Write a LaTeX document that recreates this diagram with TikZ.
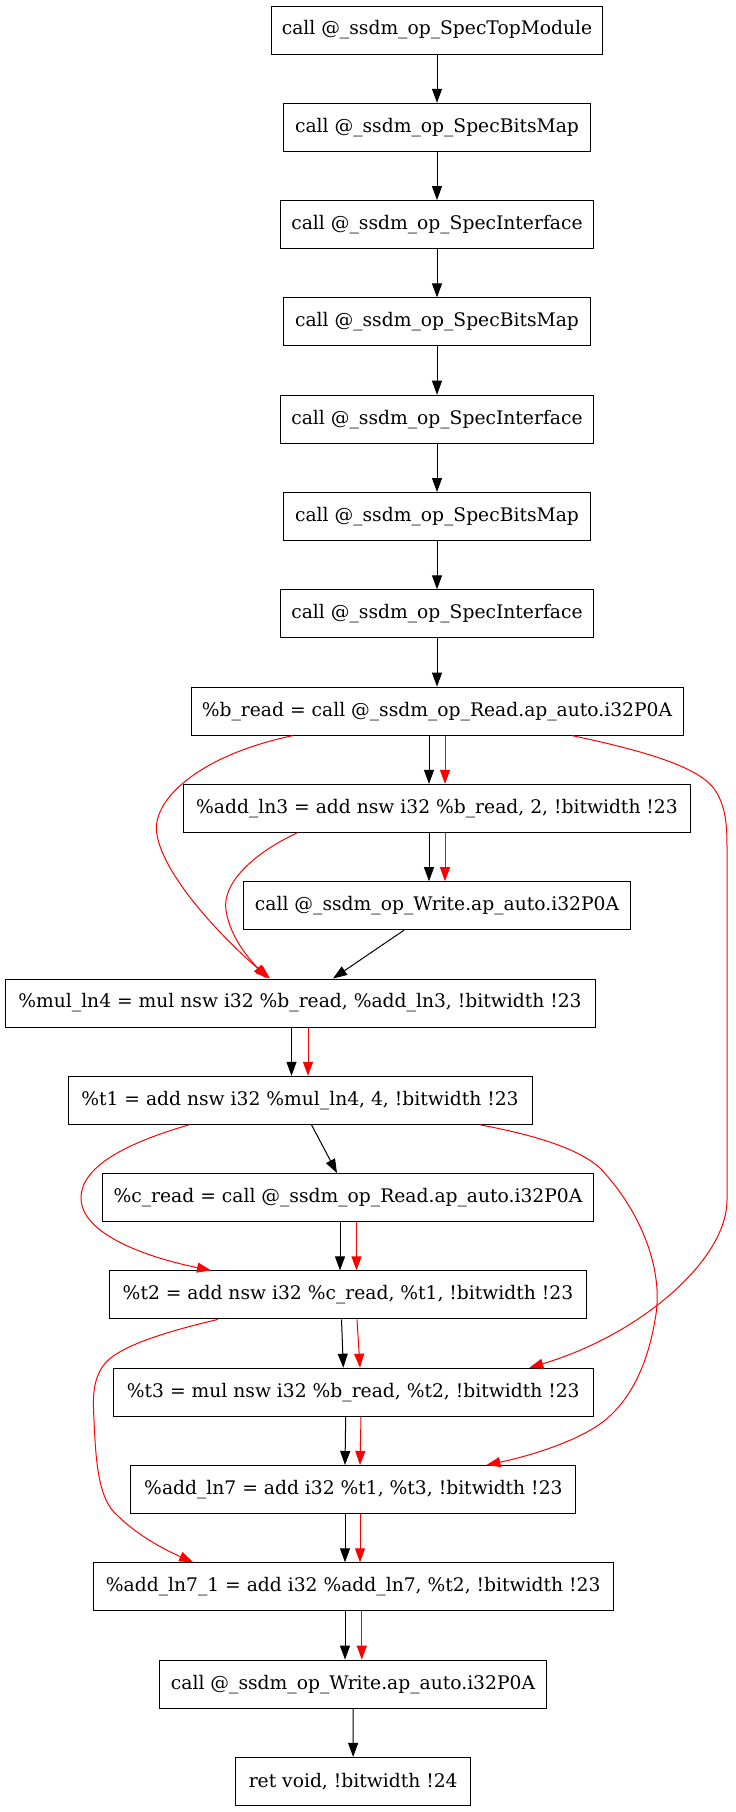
\documentclass[tikz,border=0pt]{standalone}
\usepackage{fontspec}
\setmainfont{DejaVu Serif}
\usetikzlibrary{arrows.meta}
\begin{document}
\begin{tikzpicture}[x=1pt,y=-1pt,
  op/.style={draw, line width=1pt, minimum height=48pt, inner xsep=6pt, inner ysep=0pt,
    font=\fontsize{18.7}{20}\selectfont},
  arr/.style={-{Triangle[length=14pt,width=10pt]}, line width=1pt},
  redarr/.style={arr, draw=red}]
\useasboundingbox (0,0) rectangle (736,1812);
\node[op, minimum width=331pt] (n0) at (437,30) {call @\_ssdm\_op\_SpecTopModule};
\node[op, minimum width=307pt] (n1) at (437,127.3) {call @\_ssdm\_op\_SpecBitsMap};
\node[op, minimum width=313pt] (n2) at (437,224.6) {call @\_ssdm\_op\_SpecInterface};
\node[op, minimum width=307pt] (n3) at (437,321.9) {call @\_ssdm\_op\_SpecBitsMap};
\node[op, minimum width=313pt] (n4) at (437,419.2) {call @\_ssdm\_op\_SpecInterface};
\node[op, minimum width=307pt] (n5) at (437,516.5) {call @\_ssdm\_op\_SpecBitsMap};
\node[op, minimum width=313pt] (n6) at (437,613.8) {call @\_ssdm\_op\_SpecInterface};
\node[op, minimum width=492pt] (bread) at (437,711.1) {\%b\_read = call @\_ssdm\_op\_Read.ap\_auto.i32P0A};
\node[op, minimum width=507pt] (add3) at (437,808.4) {\%add\_ln3 = add nsw i32 \%b\_read, 2, !bitwidth !23};
\node[op, minimum width=387pt] (wr1) at (437,905.7) {call @\_ssdm\_op\_Write.ap\_auto.i32P0A};
\node[op, minimum width=590pt] (mul) at (300,1003) {\%mul\_ln4 = mul nsw i32 \%b\_read, \%add\_ln3, !bitwidth !23};
\node[op, minimum width=464pt] (t1) at (300,1100.3) {\%t1 = add nsw i32 \%mul\_ln4, 4, !bitwidth !23};
\node[op, minimum width=491pt] (cread) at (348,1197.6) {\%c\_read = call @\_ssdm\_op\_Read.ap\_auto.i32P0A};
\node[op, minimum width=477pt] (t2) at (348,1294.9) {\%t2 = add nsw i32 \%c\_read, \%t1, !bitwidth !23};
\node[op, minimum width=480pt] (t3) at (353.3,1392.2) {\%t3 = mul nsw i32 \%b\_read, \%t2, !bitwidth !23};
\node[op, minimum width=445pt] (add7) at (353.4,1489.5) {\%add\_ln7 = add i32 \%t1, \%t3, !bitwidth !23};
\node[op, minimum width=520pt] (add71) at (353.2,1586.8) {\%add\_ln7\_1 = add i32 \%add\_ln7, \%t2, !bitwidth !23};
\node[op, minimum width=387pt] (wr2) at (353,1684.1) {call @\_ssdm\_op\_Write.ap\_auto.i32P0A};
\node[op, minimum width=235pt] (ret) at (353.2,1781.4) {ret void, !bitwidth !24};
% chain of spec calls
\draw[arr] (n0) -- (n1);
\draw[arr] (n1) -- (n2);
\draw[arr] (n2) -- (n3);
\draw[arr] (n3) -- (n4);
\draw[arr] (n4) -- (n5);
\draw[arr] (n5) -- (n6);
\draw[arr] (n6) -- (bread);
% parallel pairs
\draw[arr] ([xshift=-8pt]bread.south) -- ([xshift=-8pt]add3.north);
\draw[redarr] ([xshift=8pt]bread.south) -- ([xshift=8pt]add3.north);
\draw[arr] ([xshift=-8pt]add3.south) -- ([xshift=-8pt]wr1.north);
\draw[redarr] ([xshift=8pt]add3.south) -- ([xshift=8pt]wr1.north);
\draw[arr] ([xshift=-33pt]wr1.south) -- ([xshift=33pt]mul.north);
\draw[arr] ([xshift=-8.5pt]mul.south) -- ([xshift=-8.5pt]t1.north);
\draw[redarr] ([xshift=8pt]mul.south) -- ([xshift=8pt]t1.north);
\draw[arr] ([xshift=11.5pt]t1.south) -- ([xshift=-11pt]cread.north);
\draw[arr] ([xshift=-8pt]cread.south) -- ([xshift=-8pt]t2.north);
\draw[redarr] ([xshift=8.5pt]cread.south) -- ([xshift=8.5pt]t2.north);
\draw[arr] ([xshift=-6.5pt]t2.south) -- ([xshift=-10pt]t3.north);
\draw[redarr] ([xshift=9pt]t2.south) -- ([xshift=6.7pt]t3.north);
\draw[arr] ([xshift=-7.6pt]t3.south) -- ([xshift=-8.4pt]add7.north);
\draw[redarr] ([xshift=7.7pt]t3.south) -- ([xshift=6.6pt]add7.north);
\draw[arr] ([xshift=-8.4pt]add7.south) -- ([xshift=-8.2pt]add71.north);
\draw[redarr] ([xshift=6.6pt]add7.south) -- ([xshift=6.8pt]add71.north);
\draw[arr] ([xshift=-8.2pt]add71.south) -- ([xshift=-8pt]wr2.north);
\draw[redarr] ([xshift=8.6pt]add71.south) -- ([xshift=8.8pt]wr2.north);
\draw[arr] (wr2) -- (ret);
% red curves
\draw[redarr] ([xshift=-144pt]bread.south) .. controls (200,755) and (150,800) .. (157,835)
   .. controls (165,880) and (230,945) .. ([xshift=-30pt]mul.north);
\draw[redarr] ([xshift=-140pt]add3.south) .. controls (250,855) and (222,885) .. (226,910)
   .. controls (230,940) and (255,965) .. ([xshift=-33pt]mul.north);
\draw[redarr] ([xshift=135pt]bread.south) .. controls (650,752) and (700,768) .. (715,790)
   .. controls (727,808) and (727,830) .. (727,850) -- (727,1200)
   .. controls (727,1260) and (640,1335) .. ([xshift=176pt]t3.north);
\draw[redarr] ([xshift=-111pt]t1.south) .. controls (130,1142) and (82,1165) .. (81,1197)
   .. controls (80,1235) and (150,1258) .. ([xshift=-137pt]t2.north);
\draw[redarr] ([xshift=180pt]t1.south) .. controls (540,1136) and (580,1150) .. (600,1168)
   .. controls (640,1210) and (665,1270) .. (655,1320)
   .. controls (645,1380) and (620,1410) .. (600,1424)
   .. controls (570,1445) and (520,1458) .. ([xshift=133pt]add7.north);
\draw[redarr] ([xshift=-130pt]t2.south) .. controls (160,1333) and (115,1348) .. (103,1366)
   .. controls (92,1382) and (93,1400) .. (94,1420)
   .. controls (96,1470) and (100,1500) .. (117,1515)
   .. controls (140,1538) and (170,1552) .. ([xshift=-160pt]add71.north);
\end{tikzpicture}
\end{document}
